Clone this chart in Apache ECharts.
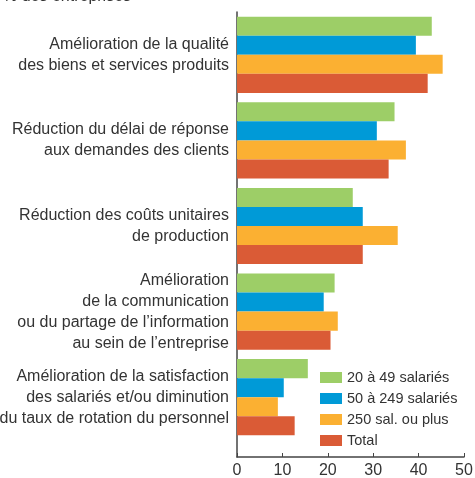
<!DOCTYPE html>
<html>
<head>
<meta charset="utf-8">
<script src="https://cdn.jsdelivr.net/npm/echarts@6/dist/echarts.min.js"></script>
<style>
  html, body { margin: 0; padding: 0; background: #fff; }
  #chart { width: 475px; height: 478px; }
</style>
</head>
<body>
<div id="chart"></div>
<script>
// categories, top to bottom
const categories = [
  'Amélioration de la qualité\ndes biens et services produits',
  'Réduction du délai de réponse\naux demandes des clients',
  'Réduction des coûts unitaires\nde production',
  'Amélioration\nde la communication\nou du partage de l’information\nau sein de l’entreprise',
  'Amélioration de la satisfaction\ndes salariés et/ou diminution\ndu taux de rotation du personnel'
]
const seriesNames = ['20 à 49 salariés', '50 à 249 salariés', '250 sal. ou plus', 'Total']
const small = [42.9, 34.7, 25.5, 21.5, 15.6]
const medium = [39.4, 30.8, 27.7, 19.1, 10.3]
const large = [45.3, 37.2, 35.4, 22.2, 9.0]
const total = [42.0, 33.4, 27.7, 20.6, 12.7]
const xTicks = [0, 50, 10] // min, max, interval

const colors = ['#9dce67', '#009ad7', '#fbb032', '#da5b36']
const font = '"Liberation Sans", Arial, sans-serif'
const textColor = '#333'

const chart = echarts.init(document.getElementById('chart'))

const values = [small, medium, large, total]

chart.setOption({
  animation: false,
  textStyle: { fontFamily: font },
  title: {
    text: '% des entreprises',
    left: -2,
    top: -16,
    textStyle: { fontFamily: font, fontSize: 16, fontWeight: 'normal', color: textColor }
  },
  legend: {
    orient: 'vertical',
    left: 320,
    top: 370,
    padding: 0,
    itemWidth: 22,
    itemHeight: 11,
    itemGap: 6,
    icon: 'rect',
    data: seriesNames,
    textStyle: { fontFamily: font, fontSize: 14.5, color: textColor }
  },
  grid: [
    { left: 237, right: 11, top: 12, height: 428, outerBoundsMode: 'none' },
    { left: 237, right: 11, top: 12, bottom: 21, outerBoundsMode: 'none' }
  ],
  xAxis: [
    {
      gridIndex: 0, type: 'value', min: xTicks[0], max: xTicks[1], interval: xTicks[2],
      show: false, splitLine: { show: false }
    },
    {
      gridIndex: 1, type: 'value', min: xTicks[0], max: xTicks[1], interval: xTicks[2],
      axisLine: { show: true, lineStyle: { color: '#444', width: 1.5 } },
      axisTick: { show: true, inside: true, length: 4, lineStyle: { color: '#444' } },
      axisLabel: { fontFamily: font, fontSize: 16, color: textColor, margin: 6 },
      splitLine: { show: false }
    }
  ],
  yAxis: [
    {
      gridIndex: 0, type: 'category', inverse: true, data: categories,
      axisLine: { show: false },
      axisTick: { show: false },
      axisLabel: {
        fontFamily: font, fontSize: 16, lineHeight: 21, color: textColor,
        align: 'right', margin: 8
      }
    },
    {
      gridIndex: 1, type: 'value', min: 0, max: 1,
      axisLine: { show: true, lineStyle: { color: '#444', width: 1.5 } },
      axisTick: { show: false },
      axisLabel: { show: false },
      splitLine: { show: false }
    }
  ],
  series: seriesNames.map((name, i) => ({
    name: name,
    type: 'bar',
    xAxisIndex: 0,
    yAxisIndex: 0,
    data: values[i],
    barGap: '0%',
    barCategoryGap: '11%',
    itemStyle: { color: colors[i] }
  }))
})
</script>
</body>
</html>
